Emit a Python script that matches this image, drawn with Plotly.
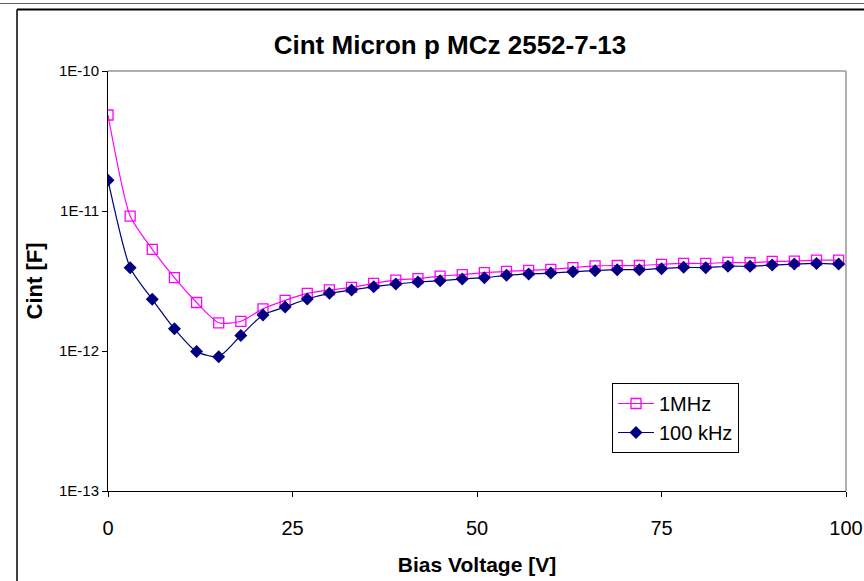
import plotly.graph_objects as go

voltage = [0, 3, 6, 9, 12, 15, 18, 21, 24, 27, 30, 33, 36, 39, 42, 45, 48, 51, 54,
           57, 60, 63, 66, 69, 72, 75, 78, 81, 84, 87, 90, 93, 96, 99]

cint_1mhz = [4.85e-11, 9.2e-12, 5.32e-12, 3.34e-12, 2.22e-12, 1.59e-12, 1.63e-12, 2.0e-12,
             2.3e-12, 2.58e-12, 2.73e-12, 2.85e-12, 3.04e-12, 3.21e-12, 3.29e-12, 3.43e-12,
             3.51e-12, 3.63e-12, 3.71e-12, 3.77e-12, 3.83e-12, 3.94e-12, 4.05e-12, 4.08e-12,
             4.08e-12, 4.16e-12, 4.22e-12, 4.22e-12, 4.29e-12, 4.27e-12, 4.36e-12, 4.38e-12,
             4.46e-12, 4.46e-12]

cint_100khz = [1.66e-11, 3.94e-12, 2.34e-12, 1.44e-12, 9.9e-13, 9.1e-13, 1.29e-12, 1.81e-12,
               2.06e-12, 2.35e-12, 2.58e-12, 2.73e-12, 2.88e-12, 3.01e-12, 3.11e-12, 3.18e-12,
               3.27e-12, 3.34e-12, 3.47e-12, 3.55e-12, 3.6e-12, 3.68e-12, 3.75e-12, 3.81e-12,
               3.81e-12, 3.87e-12, 3.96e-12, 3.94e-12, 4.03e-12, 4.03e-12, 4.11e-12, 4.18e-12,
               4.22e-12, 4.18e-12]

y_tickvals = [1e-13, 1e-12, 1e-11, 1e-10]
y_ticktext = ["1E-13", "1E-12", "1E-11", "1E-10"]
x_tickvals = [0, 25, 50, 75, 100]

FONT = "Liberation Sans, Arial, sans-serif"

fig = go.Figure()
fig.add_trace(go.Scatter(
    x=voltage, y=cint_1mhz, name="1MHz", mode="lines+markers",
    line=dict(color="#FF00FF", width=1.2, shape="spline", smoothing=0.6),
    marker=dict(symbol="square-open", size=10, color="#FF00FF", line=dict(width=1.3, color="#FF00FF")),
))
fig.add_trace(go.Scatter(
    x=voltage, y=cint_100khz, name="100 kHz", mode="lines+markers",
    line=dict(color="#000080", width=1.2, shape="spline", smoothing=0.6),
    marker=dict(symbol="diamond", size=10, color="#000080"),
))

fig.update_layout(
    width=864, height=581,
    margin=dict(l=108, r=18, t=71, b=90),
    paper_bgcolor="white", plot_bgcolor="white",
    font=dict(family=FONT, color="black"),
    title=dict(text="<b>Cint Micron p MCz 2552-7-13</b>", x=450/864, xref="container",
               xanchor="center", y=1-45/581, yanchor="middle", font=dict(size=26, family=FONT)),
    showlegend=True,
    legend=dict(x=(612-108)/738, y=(491-383)/420, xanchor="left", yanchor="top",
                bordercolor="black", borderwidth=1, bgcolor="white",
                font=dict(size=20, family=FONT), tracegroupgap=0, itemwidth=36),
)
fig.update_xaxes(
    range=[0, 100], tickvals=x_tickvals, showgrid=False, zeroline=False, automargin=False,
    showline=True, linecolor="black", linewidth=1, ticks="outside", ticklen=5,
    tickcolor="black", tickfont=dict(size=20), ticklabelstandoff=14, mirror=False,
    title=dict(text="<b>Bias Voltage [V]</b>", font=dict(size=21), standoff=19),
)
fig.update_yaxes(
    type="log", range=[-13, -10], tickvals=y_tickvals, ticktext=y_ticktext, automargin=False,
    showgrid=False, zeroline=False, showline=True, linecolor="black", linewidth=1,
    ticks="outside", ticklen=5, tickcolor="black", tickfont=dict(size=15),
    title=dict(text="<b>Cint [F]</b>", font=dict(size=22), standoff=10),
)

# plot-area gray top/right borders
fig.add_shape(type="line", xref="paper", yref="paper", x0=0, x1=1, y0=1, y1=1,
              line=dict(color="#B0B0B0", width=2))
fig.add_shape(type="line", xref="paper", yref="paper", x0=1, x1=1, y0=0, y1=1,
              line=dict(color="#B0B0B0", width=2))
# outer chart frame lines
fig.add_shape(type="line", xref="paper", yref="paper",
              x0=-108/738, x1=(864-108)/738, y0=(581-90-3.5)/420, y1=(581-90-3.5)/420,
              line=dict(color="#606060", width=1))
fig.add_shape(type="line", xref="paper", yref="paper",
              x0=(17-108)/738, x1=(864-108)/738, y0=(581-90-9.5)/420, y1=(581-90-9.5)/420,
              line=dict(color="black", width=2))
fig.add_shape(type="line", xref="paper", yref="paper",
              x0=(17-108)/738, x1=(17-108)/738, y0=(581-90-9.5)/420, y1=-90/420,
              line=dict(color="black", width=1.5))

fig.write_html("out.html")
